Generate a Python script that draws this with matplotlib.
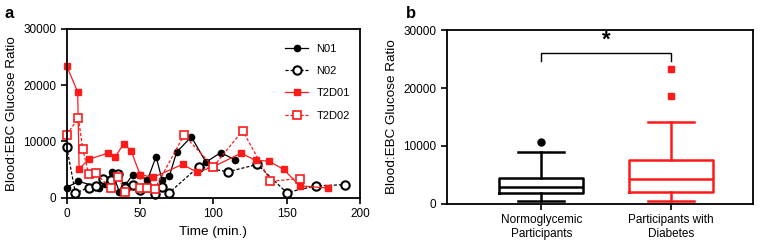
import numpy as np
import matplotlib
matplotlib.use("Agg")
import matplotlib.pyplot as plt

plt.rcParams['font.family'] = ['Liberation Sans', 'DejaVu Sans']

# panel a: time courses (minutes, ratio)
n01_t = [0, 8, 20, 22, 26, 31, 36, 40, 45, 50, 55, 61, 65, 70, 75, 85, 95, 105, 115]
n01_y = [1800, 2900, 2000, 1700, 2400, 4500, 1000, 2200, 4100, 4000, 3100, 7300, 3200, 3800, 8100, 10800, 6300, 8000, 6700]

n02_t = [0, 6, 15, 20, 25, 30, 35, 40, 45, 50, 55, 60, 65, 70, 90, 110, 130, 150, 170, 190]
n02_y = [9000, 800, 1800, 2000, 3400, 3100, 4200, 1700, 2200, 1300, 1900, 600, 1900, 900, 5500, 4600, 5900, 900, 2100, 2300]

t2d01_t = [0, 7.5, 8.5, 15, 28, 33, 39, 44, 50, 59, 79, 89, 100, 119, 129, 138, 148, 159, 178]
t2d01_y = [23400, 18800, 5100, 6800, 7900, 7200, 9600, 8300, 4100, 3600, 5900, 4500, 5500, 7900, 6600, 6500, 5000, 2100, 1700]

t2d02_t = [0, 8, 11, 15, 20, 30, 35, 40, 50, 55, 60, 80, 100, 120, 139, 159]
t2d02_y = [11200, 14100, 8600, 4200, 4300, 1700, 3700, 1000, 1800, 1800, 1500, 11100, 5500, 11900, 2900, 3400]

# panel b: box summaries
groups = ['Normoglycemic\nParticipants', 'Participants with\nDiabetes']
whislo = [600, 600]
q1 = [1950, 2000]
med = [3000, 4250]
q3 = [4500, 7600]
whishi = [9000, 14100]
fliers = [[10700], [18600, 23200]]

red = '#ff1a1a'

fig = plt.figure(figsize=(7.61, 2.44), dpi=100)
ax1 = fig.add_axes([0.0876, 0.190, 0.473 - 0.0876, 0.882 - 0.190])
ax2 = fig.add_axes([0.587, 0.164, 0.989 - 0.587, 0.877 - 0.164])

ax1.plot(n01_t, n01_y, '-', color='black', lw=0.9, marker='o', ms=4.5, label='N01', clip_on=False)
ax1.plot(n02_t, n02_y, '--', color='black', lw=0.9, marker='o', ms=6, mfc='white', mew=1.5, label='N02',
         dashes=(2.5, 1.5), clip_on=False)
ax1.plot(t2d01_t, t2d01_y, '-', color=red, lw=0.9, marker='s', ms=4.5, label='T2D01', clip_on=False)
ax1.plot(t2d02_t, t2d02_y, '--', color=red, lw=0.9, marker='s', ms=6, mfc='white', mew=1.2, label='T2D02',
         dashes=(2.5, 1.5), clip_on=False)

ax1.set_xlim(0, 200)
ax1.set_ylim(0, 30000)
ax1.set_xticks([0, 50, 100, 150, 200])
ax1.set_yticks([0, 10000, 20000, 30000])
ax1.set_xlabel('Time (min.)', fontsize=9.7)
ax1.set_ylabel('Blood:EBC Glucose Ratio', fontsize=9.7)
ax1.legend(loc='upper right', frameon=False, fontsize=8, handlelength=2.0,
           labelspacing=1.1, bbox_to_anchor=(1.0, 0.97))

stats = []
for i in range(2):
    stats.append(dict(whislo=whislo[i], q1=q1[i], med=med[i], q3=q3[i],
                      whishi=whishi[i], fliers=fliers[i]))

cols = ['black', red]
for i in range(2):
    c = cols[i]
    ax2.bxp([stats[i]], positions=[i + 1], widths=0.65, showfliers=True,
            boxprops=dict(color=c, lw=1.8),
            medianprops=dict(color=c, lw=1.8),
            whiskerprops=dict(color=c, lw=1.8),
            capprops=dict(color=c, lw=1.8),
            capwidths=0.35,
            flierprops=dict(marker='o' if i == 0 else 's', mfc=c, mec=c, ms=5))

ax2.set_xlim(0.273, 2.626)
ax2.set_ylim(0, 30000)
ax2.set_yticks([0, 10000, 20000, 30000])
ax2.set_xticks([1, 2])
ax2.set_xticklabels(groups, fontsize=8.8)
ax2.set_ylabel('Blood:EBC Glucose Ratio', fontsize=9.7)
ax2.plot([1, 1, 2, 2], [24700, 26100, 26100, 24700], color='black', lw=1)
ax2.text(1.5, 26400, '*', ha='center', va='bottom', fontsize=16, fontweight='bold')

for ax in (ax1, ax2):
    for s in ax.spines.values():
        s.set_linewidth(1.3)
    ax.tick_params(direction='out', length=4, width=1.2, labelsize=8.5)

fig.text(0.006, 0.975, 'a', fontsize=12, fontweight='bold', va='top')
fig.text(0.533, 0.975, 'b', fontsize=12, fontweight='bold', va='top')

fig.savefig('out.png', dpi=100)
